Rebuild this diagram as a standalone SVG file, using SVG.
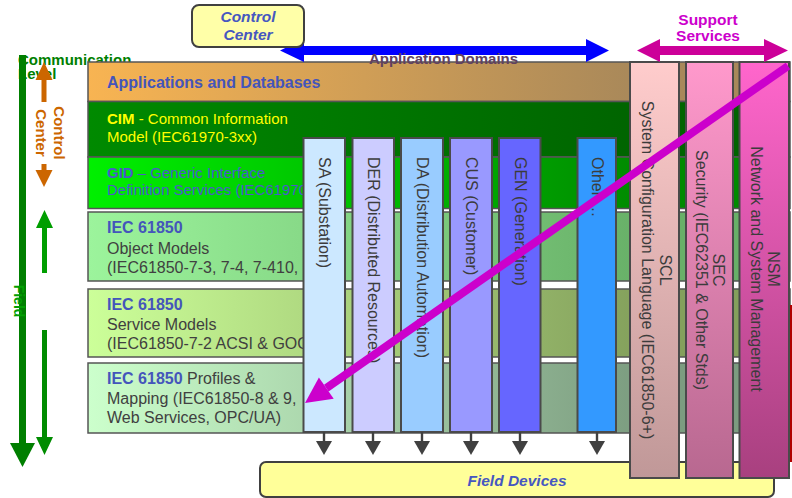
<svg xmlns="http://www.w3.org/2000/svg" width="792" height="498" viewBox="0 0 792 498">
<defs>
<linearGradient id="gApps" gradientUnits="userSpaceOnUse" x1="88" y1="0" x2="640" y2="0"><stop offset="0" stop-color="#F8B452"/><stop offset="1" stop-color="#A8885A"/></linearGradient>
<linearGradient id="gCim" gradientUnits="userSpaceOnUse" x1="88" y1="0" x2="640" y2="0"><stop offset="0" stop-color="#008A00"/><stop offset="1" stop-color="#006400"/></linearGradient>
<linearGradient id="gGid" gradientUnits="userSpaceOnUse" x1="88" y1="0" x2="640" y2="0"><stop offset="0" stop-color="#00F000"/><stop offset="1" stop-color="#008A00"/></linearGradient>
<linearGradient id="gObj" gradientUnits="userSpaceOnUse" x1="88" y1="0" x2="640" y2="0"><stop offset="0" stop-color="#9CF49C"/><stop offset="1" stop-color="#68B068"/></linearGradient>
<linearGradient id="gSvc" gradientUnits="userSpaceOnUse" x1="88" y1="0" x2="640" y2="0"><stop offset="0" stop-color="#CCFF99"/><stop offset="1" stop-color="#84A05C"/></linearGradient>
<linearGradient id="gPro" gradientUnits="userSpaceOnUse" x1="88" y1="0" x2="640" y2="0"><stop offset="0" stop-color="#CCFFCC"/><stop offset="1" stop-color="#7C9C80"/></linearGradient>
<linearGradient id="gScl" x1="0" y1="0" x2="0" y2="1"><stop offset="0" stop-color="#FFCCCC"/><stop offset="1" stop-color="#C09898"/></linearGradient>
<linearGradient id="gSec" x1="0" y1="0" x2="0" y2="1"><stop offset="0" stop-color="#FF99CC"/><stop offset="1" stop-color="#B86890"/></linearGradient>
<linearGradient id="gNsm" x1="0" y1="0" x2="0" y2="1"><stop offset="0" stop-color="#FF66CC"/><stop offset="1" stop-color="#A8407F"/></linearGradient>
</defs>
<style>
text{font-family:"Liberation Sans",Arial,sans-serif}
.lay{stroke:#555555;stroke-width:1.5}
.col{stroke:#4A4A4A;stroke-width:2}
.b{font-weight:bold}
.bl{fill:#4455BB}
.gr{fill:#404040}
.f15{font-size:15px}
.f16{font-size:16px}
.vt{font-size:16px;fill:#3C3C3C;dominant-baseline:central}
.dn{fill:#404040}
.ital{font-style:italic;font-weight:bold;fill:#4657C0;text-anchor:middle}
</style>

<g id="level-axis">
<rect x="19" y="55" width="7" height="390" fill="#007F00"/>
<polygon points="10,443 35,443 22.5,467" fill="#007F00"/>
<text x="18" y="65" class="b f15" fill="#007F00">Communication</text>
<text x="18" y="79" class="b f15" fill="#007F00">Level</text>
<text transform="translate(19,301) rotate(90)" class="b" font-size="14" fill="#00A000" text-anchor="middle" dominant-baseline="central">Field</text>
<polygon points="44,62 52.5,80 46.5,80 46.5,102 41.5,102 41.5,80 35.5,80" fill="#CC6600"/>
<polygon points="41.5,164 46.5,164 46.5,170 52.5,170 44,187 35.5,170 41.5,170" fill="#CC6600"/>
<g transform="translate(50.5,133) rotate(90)" fill="#CC6600" font-size="15" font-weight="bold" text-anchor="middle" dominant-baseline="central">
<text x="0" y="-9">Control</text>
<text x="0" y="9">Center</text>
</g>
<polygon points="44.5,210 53,228 47,228 47,273 42,273 42,228 36,228" fill="#009E00"/>
<polygon points="42,330 47,330 47,437 53,437 44.5,455 36,437 42,437" fill="#008C00"/>
</g>

<g id="support-services-label">
<text x="708" y="24.5" class="b" font-size="15.5" fill="#CC00CC" text-anchor="middle">Support</text>
<text x="708" y="40.5" class="b" font-size="15.5" fill="#CC00CC" text-anchor="middle">Services</text>
</g>

<g id="layers">
<g id="layer-apps">
<rect class="lay" x="88" y="62" width="702" height="39.5" fill="url(#gApps)"/>
<text x="107" y="87.5" class="b f16 bl">Applications and Databases</text>
</g>
<g id="layer-cim">
<rect class="lay" x="88" y="101.5" width="702" height="55.5" fill="url(#gCim)"/>
<text x="107" y="123.5" class="f15" fill="#FFFF00"><tspan font-weight="bold">CIM</tspan> - Common Information</text>
<text x="107" y="141.5" class="f15" fill="#FFFF00">Model (IEC61970-3xx)</text>
</g>
<g id="layer-gid">
<rect class="lay" x="88" y="157" width="702" height="51.5" fill="url(#gGid)"/>
<text x="107" y="177.5" class="f15" fill="#4A5ACB"><tspan font-weight="bold">GID</tspan> – Generic Interface</text>
<text x="107" y="194.5" class="f15" fill="#4A5ACB">Definition Services (IEC61970-4xx)</text>
</g>
<g id="layer-object-models">
<rect class="lay" x="88" y="212" width="702" height="69" fill="url(#gObj)"/>
<text x="107" y="232.5" class="b f16 bl">IEC 61850</text>
<text x="107" y="253.5" class="f16 gr">Object Models</text>
<text x="107" y="273" class="f16 gr">(IEC61850-7-3, 7-4, 7-410,</text>
</g>
<g id="layer-service-models">
<rect class="lay" x="88" y="289" width="702" height="68" fill="url(#gSvc)"/>
<text x="107" y="309.5" class="b f16 bl">IEC 61850</text>
<text x="107" y="330" class="f16 gr">Service Models</text>
<text x="107" y="349" class="f16 gr">(IEC61850-7-2 ACSI &amp; GOOSE)</text>
</g>
<g id="layer-profiles">
<rect class="lay" x="88" y="363" width="702" height="70" fill="url(#gPro)"/>
<text x="107" y="383.5" class="f16 gr"><tspan class="b bl">IEC 61850</tspan> Profiles &amp;</text>
<text x="107" y="403.5" class="f16 gr">Mapping (IEC61850-8 &amp; 9,</text>
<text x="107" y="423" class="f16 gr">Web Services, OPC/UA)</text>
</g>
</g>

<g id="domains">
<g id="dom-sa"><rect class="col" x="303.5" y="138" width="41.5" height="294" fill="#CCE8FF"/>
<text transform="translate(324,157) rotate(90)" class="vt">SA (Substation)</text></g>
<g id="dom-der"><rect class="col" x="352.5" y="138" width="41.5" height="294" fill="#CCCCFF"/>
<text transform="translate(373,157) rotate(90)" class="vt">DER (Distributed Resources)</text></g>
<g id="dom-da"><rect class="col" x="401" y="138" width="42" height="294" fill="#99CCFF"/>
<text transform="translate(422,157) rotate(90)" class="vt">DA (Distribution Automation)</text></g>
<g id="dom-cus"><rect class="col" x="450" y="138" width="42" height="294" fill="#9999FF"/>
<text transform="translate(471,157) rotate(90)" class="vt">CUS (Customer)</text></g>
<g id="dom-gen"><rect class="col" x="499" y="138" width="41.5" height="294" fill="#6666FF"/>
<text transform="translate(520,157) rotate(90)" class="vt">GEN (Generation)</text></g>
<g id="dom-other"><rect class="col" x="577.5" y="138" width="38.5" height="294" fill="#3399FF"/>
<text transform="translate(597,157) rotate(90)" class="vt">Other …</text></g>
</g>

<g id="field-devices">
<rect x="260" y="462" width="514" height="35" rx="6" fill="#FFFF99" stroke="#404040" stroke-width="2"/>
<text x="517" y="486" class="ital" font-size="15.5">Field Devices</text>
</g>

<rect id="edge-bar" x="789.5" y="305" width="2.5" height="157" fill="#B00000"/>

<g id="support">
<g id="sup-scl"><rect class="col" x="630" y="62" width="49" height="416" fill="url(#gScl)"/>
<g transform="translate(656,270) rotate(90)" text-anchor="middle"><text class="vt" y="-9">SCL</text><text class="vt" y="9">System Configuration Language (IEC61850-6+)</text></g></g>
<g id="sup-sec"><rect class="col" x="686" y="62" width="47" height="416" fill="url(#gSec)"/>
<g transform="translate(710,270) rotate(90)" text-anchor="middle"><text class="vt" y="-8.5">SEC</text><text class="vt" y="8.5">Security (IEC62351 &amp; Other Stds)</text></g></g>
<g id="sup-nsm"><rect class="col" x="739.5" y="62" width="49.5" height="416" fill="url(#gNsm)"/>
<g transform="translate(765,269) rotate(90)" text-anchor="middle"><text class="vt" y="-8.5">NSM</text><text class="vt" y="8.5">Network and System Management</text></g></g>
</g>

<g id="connectors">
<polygon points="280,50.5 304,39 304,46 586,46 586,39 609,50.5 586,62 586,55 304,55 304,62" fill="#0000FF"/>
<text x="443.5" y="64" class="b f15" fill="#604060" text-anchor="middle">Application Domains</text>
<polygon points="637,50.5 660,39 660,46 764,46 764,39 788,50.5 764,62 764,55 660,55 660,62" fill="#CC0099"/>
<g class="dn">
<rect x="322.8" y="432" width="2.4" height="10"/><polygon points="316,441 332,441 324,455"/>
<rect x="371.8" y="432" width="2.4" height="10"/><polygon points="365,441 381,441 373,455"/>
<rect x="420.8" y="432" width="2.4" height="10"/><polygon points="414,441 430,441 422,455"/>
<rect x="469.8" y="432" width="2.4" height="10"/><polygon points="463,441 479,441 471,455"/>
<rect x="518.8" y="432" width="2.4" height="10"/><polygon points="512,441 528,441 520,455"/>
<rect x="595.8" y="432" width="2.4" height="10"/><polygon points="589,441 605,441 597,455"/>
</g>
<line x1="788" y1="66" x2="326.3" y2="388.1" stroke="#CC00CC" stroke-width="8"/>
<polygon points="305,403 333.7,398.8 318.9,377.4" fill="#CC00CC"/>
</g>

<g id="control-center">
<rect x="192" y="5" width="112" height="42" rx="7" fill="#FFFFA8" stroke="#404040" stroke-width="2"/>
<text x="248" y="21.5" class="ital" font-size="15.5">Control</text>
<text x="248" y="39.5" class="ital" font-size="15.5">Center</text>
</g>
</svg>
